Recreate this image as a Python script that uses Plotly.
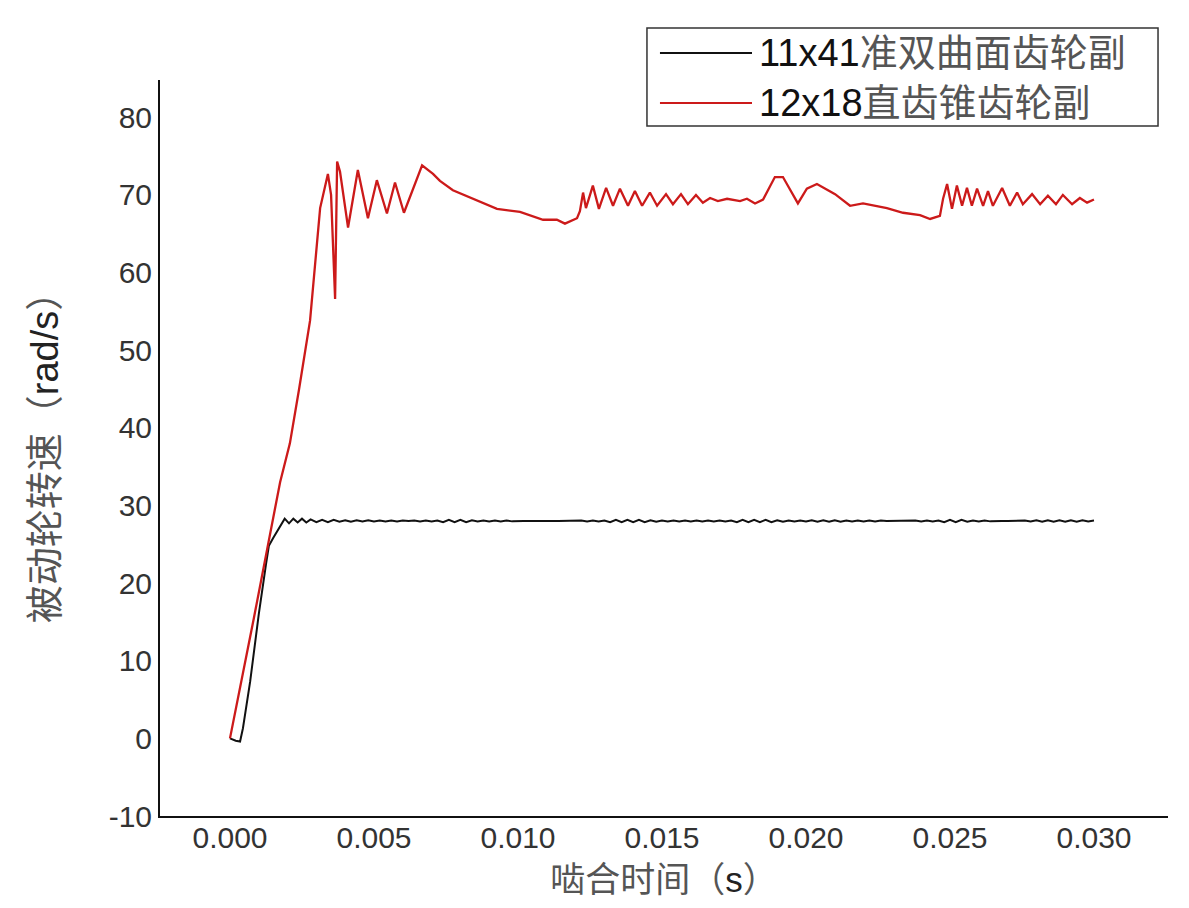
import plotly.graph_objects as go

# ---------------- data ----------------
# 12x18 直齿锥齿轮副 (time in ms, speed in rad/s)
red_t_ms = [0.0, 0.83, 1.74, 2.08, 2.4, 2.78, 3.13, 3.40, 3.51, 3.60, 3.65, 3.72, 3.82, 4.10, 4.44,
            4.79, 5.10, 5.45, 5.73, 6.04, 6.67, 7.05, 7.29, 7.74, 8.44, 9.27, 10.07, 10.87, 11.35,
            11.63, 12.05, 12.15, 12.26, 12.36, 12.60, 12.81, 13.06, 13.30, 13.54, 13.82, 14.06,
            14.31, 14.58, 14.83, 15.14, 15.38, 15.66, 15.90, 16.18, 16.42, 16.67, 16.94, 17.26,
            17.71, 17.95, 18.23, 18.51, 18.92, 19.20, 19.72, 20.03, 20.38, 21.01, 21.53, 21.98,
            22.81, 23.37, 23.96, 24.31, 24.65, 24.76, 24.90, 25.07, 25.24, 25.42, 25.59, 25.76,
            25.94, 26.15, 26.32, 26.49, 26.81, 27.08, 27.33, 27.53, 27.85, 28.13, 28.40, 28.68,
            28.92, 29.24, 29.51, 29.76, 30.0]
red_v = [0.0, 15.5, 33.0, 38.0, 45.0, 53.8, 68.3, 72.7, 70.0, 60.0, 56.6, 74.3, 73.0, 65.8, 73.2,
         67.0, 71.9, 67.6, 71.6, 67.7, 73.8, 72.7, 71.8, 70.6, 69.5, 68.2, 67.8, 66.8, 66.8,
         66.3, 67.0, 67.9, 70.3, 68.3, 71.2, 68.2, 70.9, 68.6, 70.8, 68.6, 70.5,
         68.6, 70.3, 68.6, 70.1, 68.8, 70.1, 68.8, 70.0, 69.0, 69.6, 69.2, 69.5,
         69.2, 69.5, 68.9, 69.4, 72.3, 72.3, 68.9, 70.8, 71.4, 70.1, 68.6, 68.9,
         68.3, 67.7, 67.4, 66.9, 67.3, 69.5, 71.4, 68.2, 71.2, 68.6, 70.9, 68.6,
         70.8, 68.6, 70.5, 68.6, 70.9, 68.6, 70.3, 68.8, 70.1, 68.8, 69.9, 68.8,
         70.0, 68.8, 69.6, 69.0, 69.4]

# 11x41 准双曲面齿轮副 (time in ms, speed in rad/s)
black_t_ms = [0.0, 0.2, 0.35, 0.45, 0.7, 1.0, 1.25, 1.35, 1.5, 1.7, 1.9, 2.05, 2.2, 2.35, 2.5, 2.65, 2.8,
              3.0, 3.2, 3.4, 3.6, 3.8, 4.0, 4.2, 4.4, 4.6, 4.8, 5.0,
              5.2, 5.4, 5.6, 5.8, 6.0, 6.2, 6.4, 6.6, 6.8, 7.0, 7.2,
              7.4, 7.6, 7.8, 8.0, 8.2, 8.4,
              8.6, 8.8, 9.0, 9.2, 9.4, 9.6, 9.8, 10.0,
              10.2, 10.4, 10.6, 10.8, 11.0, 11.2, 11.4, 11.6, 11.8, 12.0,
              12.2, 12.4, 12.6, 12.8, 13.0,
              13.2, 13.4, 13.6, 13.8, 14.0, 14.2, 14.4, 14.6, 14.8,
              15.0, 15.2, 15.4, 15.6, 15.8, 16.0, 16.2, 16.4, 16.6, 16.8, 17.0, 17.2, 17.4,
              17.6, 17.8, 18.0, 18.2, 18.4, 18.6, 18.8, 19.0, 19.2,
              19.4, 19.6, 19.8, 20.0, 20.2, 20.4, 20.6, 20.8, 21.0, 21.2, 21.4, 21.6, 21.8, 22.0,
              22.2, 22.4, 22.6, 22.8,
              23.0, 23.2, 23.4, 23.6,
              23.8, 24.0, 24.2, 24.4, 24.6,
              24.8, 25.0, 25.2, 25.4, 25.6,
              25.8, 26.0, 26.2, 26.4, 26.6,
              26.8, 27.0, 27.2, 27.4,
              27.6, 27.8, 28.0, 28.2, 28.4, 28.6, 28.8, 29.0, 29.2, 29.4, 29.6, 29.8, 30.0]
black_v = [0.0, -0.3, -0.4, 1.3, 7.3, 16.0, 22.4, 24.8, 25.8, 27.1, 28.3, 27.7, 28.3, 27.8, 28.3, 27.8, 28.2,
           27.85, 28.15, 27.85, 28.15, 27.9, 28.1, 27.9, 28.1, 27.95, 28.1, 27.95,
           28.05, 27.95, 28.05, 27.95, 28.05, 28.0, 28.05, 27.95, 28.05, 27.95, 28.05,
           27.85, 28.15, 27.85, 28.15, 27.85, 28.1,
           27.95, 28.05, 27.95, 28.05, 27.95, 28.05, 27.95, 28.0,
           28.0, 28.0, 28.02, 28.0, 27.98, 28.0, 28.0, 28.02, 28.0, 28.0,
           28.05, 27.95, 28.05, 27.95, 28.05,
           27.85, 28.15, 27.85, 28.15, 27.85, 28.15, 27.85, 28.1, 27.9,
           28.05, 27.95, 28.05, 27.95, 28.05, 27.95, 28.05, 27.95, 28.05, 27.95, 28.05, 27.95, 28.05,
           27.85, 28.15, 27.85, 28.15, 27.85, 28.15, 27.85, 28.1, 27.9,
           28.05, 27.95, 28.05, 27.95, 28.1, 27.9, 28.1, 27.9, 28.1, 27.9, 28.05, 27.95, 28.05, 27.95,
           28.05, 27.95, 28.05, 28.0,
           28.0, 28.0, 28.0, 28.0,
           28.05, 27.95, 28.05, 27.95, 28.05,
           27.85, 28.15, 27.85, 28.15, 27.9,
           28.05, 27.95, 28.05, 27.95, 28.0,
           28.0, 28.0, 28.0, 28.0,
           28.05, 27.95, 28.1, 27.9, 28.1, 27.9, 28.1, 27.9, 28.1, 27.9, 28.1, 27.95, 28.05]

series_names = ["11x41准双曲面齿轮副", "12x18直齿锥齿轮副"]
x_tick_vals = [0.000, 0.005, 0.010, 0.015, 0.020, 0.025, 0.030]
x_tick_text = ["0.000", "0.005", "0.010", "0.015", "0.020", "0.025", "0.030"]
y_tick_vals = [-10, 0, 10, 20, 30, 40, 50, 60, 70, 80]
y_tick_text = ["-10", "0", "10", "20", "30", "40", "50", "60", "70", "80"]

# ---------------- figure ----------------
RED = "#cc1a1a"
BLACK = "#111111"
FONT = "Liberation Sans, Arial, Noto Sans CJK SC, sans-serif"
CJK_GRAY = "#555555"

black_t = [t / 1000 for t in black_t_ms]
red_t = [t / 1000 for t in red_t_ms]

fig = go.Figure()
fig.add_trace(go.Scatter(x=black_t, y=black_v, mode="lines", name=series_names[0],
                         line=dict(color=BLACK, width=2), showlegend=False))
fig.add_trace(go.Scatter(x=red_t, y=red_v, mode="lines", name=series_names[1],
                         line=dict(color=RED, width=2.3), showlegend=False))

# page body has an 8px margin, so the figure is sized/offset to compensate
fig.update_layout(
    width=1181, height=900,
    margin=dict(l=152, r=21, t=72, b=92),
    paper_bgcolor="white", plot_bgcolor="white",
    font=dict(family=FONT, size=30, color="#333333"),
    xaxis=dict(range=[-0.00243, 0.03257], tickvals=x_tick_vals, ticktext=x_tick_text,
               showgrid=False, zeroline=False, showline=True, linecolor="#111111", linewidth=2,
               ticks="", tickfont=dict(size=30, color="#333333"), ticklabelstandoff=-6,
               title=dict(text=f'<span style="color:{CJK_GRAY}">啮合时间（</span>s<span style="color:{CJK_GRAY}">）</span>',
                          font=dict(size=35, color="#222222"), standoff=14)),
    yaxis=dict(range=[-10, 84.8], tickvals=y_tick_vals, ticktext=y_tick_text,
               showgrid=False, zeroline=False, showline=True, linecolor="#111111", linewidth=2,
               ticks="", tickfont=dict(size=30, color="#333333"),
               title=dict(text=f'<span style="color:{CJK_GRAY}">被动轮转速（</span>rad/s<span style="color:{CJK_GRAY}">）</span>',
                          font=dict(size=38, color="#222222"), standoff=38)),
)

# manual legend (long line samples like the reference)
fig.add_shape(type="rect", xref="paper", yref="paper", x0=0.4831, x1=0.9901, y0=0.9375, y1=1.0707,
              line=dict(color="#333333", width=1.5), fillcolor="white", layer="above")
legend_rows = [(1.0367, BLACK), (0.9688, RED)]
for (yy, col), name in zip(legend_rows, series_names):
    fig.add_shape(type="line", xref="paper", yref="paper", x0=0.4960, x1=0.5873, y0=yy, y1=yy,
                  line=dict(color=col, width=2), layer="above")
    num = name[:5]
    cjk = name[5:]
    fig.add_annotation(xref="paper", yref="paper", x=0.5923, y=yy, xanchor="left", yanchor="middle",
                       text=f'<span style="color:#111111">{num}</span><span style="color:{CJK_GRAY}">{cjk}</span>',
                       showarrow=False, font=dict(family=FONT, size=38))

fig.write_html("out.html")
